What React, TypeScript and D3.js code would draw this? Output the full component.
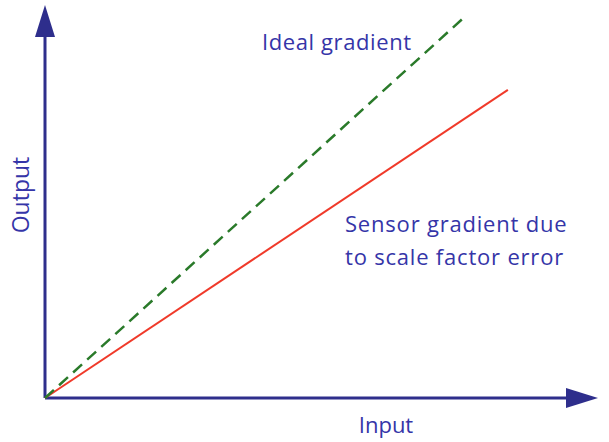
import { useEffect, useRef } from "react";
import * as d3 from "d3";

// line end points in axis units (0..10)
const idealPoints: [number, number][] = [[0, 0], [7.63, 9.75]];
const sensorPoints: [number, number][] = [[0, 0], [8.37, 7.84]];
const axisLabels = { x: "Input", y: "Output" };
const idealLabel = ["Ideal gradient"];
const sensorLabel = ["Sensor gradient due", "to scale factor error"];

const App = () => {
  const svgRef = useRef<SVGSVGElement>(null);

  useEffect(() => {
    if (!svgRef.current) return;
    const width = 609;
    const height = 442;
    const svg = d3.select(svgRef.current);
    svg.selectAll("*").remove();
    svg.attr("width", width).attr("height", height).style("font-family", "'Open Sans', sans-serif");

    const x = d3.scaleLinear().domain([0, 10]).range([45, 598]);
    const y = d3.scaleLinear().domain([0, 10]).range([398, 5]);
    const axisColor = "#2e2e8c";
    const textColor = "#3535a8";

    // axes with arrowheads
    svg.append("line").attr("x1", x(0)).attr("y1", y(0)).attr("x2", x(0)).attr("y2", y(9.5))
      .attr("stroke", axisColor).attr("stroke-width", 3);
    svg.append("line").attr("x1", x(0)).attr("y1", y(0)).attr("x2", x(9.5)).attr("y2", y(0))
      .attr("stroke", axisColor).attr("stroke-width", 3);
    svg.append("path")
      .attr("d", `M${x(0)},${y(10)} L${x(0) - 10},${y(10) + 32} L${x(0) + 10},${y(10) + 32} Z`)
      .attr("fill", axisColor);
    svg.append("path")
      .attr("d", `M${x(10)},${y(0)} L${x(10) - 32},${y(0) - 10} L${x(10) - 32},${y(0) + 10} Z`)
      .attr("fill", axisColor);

    const line = d3.line<[number, number]>().x((d) => x(d[0])).y((d) => y(d[1]));
    svg.append("path").attr("d", line(sensorPoints)).attr("stroke", "#f03a2a")
      .attr("stroke-width", 2).attr("fill", "none");
    svg.append("path").attr("d", line(idealPoints)).attr("stroke", "#2a7a2a")
      .attr("stroke-width", 2.5).attr("stroke-dasharray", "12,7").attr("fill", "none");

    svg.append("text").attr("x", 386).attr("y", 433).attr("text-anchor", "middle")
      .attr("fill", textColor).style("font-size", "22px").text(axisLabels.x);
    svg.append("text").attr("transform", "translate(29,195) rotate(-90)").attr("text-anchor", "middle")
      .attr("fill", textColor).style("font-size", "23px").text(axisLabels.y);

    idealLabel.forEach((t, i) => {
      svg.append("text").attr("x", 262).attr("y", 50 + i * 33).attr("fill", textColor)
        .style("font-size", "22px").style("letter-spacing", "0.6px").text(t);
    });
    sensorLabel.forEach((t, i) => {
      svg.append("text").attr("x", 345).attr("y", 232 + i * 33).attr("fill", textColor)
        .style("font-size", "22px").style("letter-spacing", "0.8px").text(t);
    });
  }, []);

  return <svg ref={svgRef} style={{ position: "absolute", left: 0, top: 0 }}></svg>;
};

export default App;
